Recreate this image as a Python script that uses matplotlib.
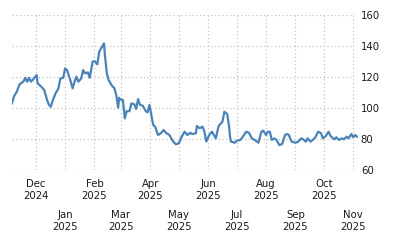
import matplotlib
matplotlib.use("Agg")
import matplotlib.pyplot as plt
import matplotlib.dates as mdates
import pandas as pd

DATES = [
    "2024-11-06", "2024-11-08", "2024-11-11", "2024-11-14", "2024-11-18", "2024-11-20",
    "2024-11-22", "2024-11-24", "2024-11-26", "2024-11-29", "2024-12-02", "2024-12-03",
    "2024-12-07", "2024-12-10", "2024-12-13", "2024-12-15", "2024-12-17", "2024-12-19",
    "2024-12-22", "2024-12-25", "2024-12-27", "2024-12-30", "2025-01-01", "2025-01-03",
    "2025-01-06", "2025-01-09", "2025-01-11", "2025-01-13", "2025-01-15", "2025-01-18",
    "2025-01-20", "2025-01-22", "2025-01-25", "2025-01-27", "2025-01-30", "2025-02-01",
    "2025-02-04", "2025-02-06", "2025-02-09", "2025-02-11", "2025-02-12", "2025-02-14",
    "2025-02-16", "2025-02-19", "2025-02-22", "2025-02-24", "2025-02-26", "2025-02-27",
    "2025-03-01", "2025-03-03", "2025-03-05", "2025-03-07", "2025-03-10", "2025-03-12",
    "2025-03-15", "2025-03-17", "2025-03-19", "2025-03-21", "2025-03-24", "2025-03-27",
    "2025-03-29", "2025-03-31", "2025-04-02", "2025-04-04", "2025-04-06", "2025-04-09",
    "2025-04-12", "2025-04-15", "2025-04-18", "2025-04-21", "2025-04-25", "2025-04-28",
    "2025-05-01", "2025-05-04", "2025-05-07", "2025-05-10", "2025-05-13", "2025-05-15",
    "2025-05-19", "2025-05-20", "2025-05-23", "2025-05-26", "2025-05-28", "2025-05-30",
    "2025-06-02", "2025-06-05", "2025-06-09", "2025-06-12", "2025-06-16", "2025-06-18",
    "2025-06-21", "2025-06-23", "2025-06-24", "2025-06-25", "2025-06-29", "2025-07-01",
    "2025-07-05", "2025-07-08", "2025-07-11", "2025-07-14", "2025-07-17", "2025-07-20",
    "2025-07-24", "2025-07-27", "2025-07-29", "2025-08-01", "2025-08-03", "2025-08-05",
    "2025-08-07", "2025-08-10", "2025-08-12", "2025-08-15", "2025-08-18", "2025-08-21",
    "2025-08-23", "2025-08-25", "2025-08-28", "2025-09-01", "2025-09-04", "2025-09-07",
    "2025-09-09", "2025-09-12", "2025-09-14", "2025-09-17", "2025-09-20", "2025-09-22",
    "2025-09-25", "2025-09-28", "2025-09-30", "2025-10-03", "2025-10-06", "2025-10-08",
    "2025-10-12", "2025-10-14", "2025-10-17", "2025-10-20", "2025-10-22", "2025-10-25",
    "2025-10-27", "2025-10-30", "2025-11-01", "2025-11-03", "2025-11-05",
]
VALUES = [
    103.0, 107.3, 110.5, 115.3, 117.0, 119.5,
    117.0, 119.5, 117.0, 119.0, 121.3, 116.0,
    113.7, 111.6, 105.2, 102.0, 100.8, 105.0,
    109.5, 112.7, 119.0, 119.5, 125.6, 124.5,
    119.0, 112.7, 117.0, 120.2, 117.0, 119.0,
    124.5, 122.4, 123.0, 119.5, 129.9, 130.3,
    128.2, 136.3, 139.5, 141.7, 134.2, 122.4,
    118.0, 114.8, 112.7, 108.4, 100.2, 106.6,
    105.2, 105.2, 93.3, 98.0, 98.0, 103.0,
    102.4, 99.4, 105.8, 102.0, 101.5, 98.0,
    97.2, 102.0, 95.5, 89.0, 88.0, 82.6,
    83.7, 85.8, 83.7, 82.6, 78.3, 76.6,
    77.2, 81.5, 84.7, 82.6, 84.0, 83.2,
    83.7, 88.4, 86.9, 88.0, 84.7, 78.3,
    82.6, 84.7, 80.4, 88.4, 91.2, 97.6,
    96.1, 88.0, 81.5, 78.3, 77.6, 78.9,
    79.4, 81.9, 84.7, 84.0, 80.4, 79.4,
    77.6, 84.7, 85.4, 82.6, 84.7, 84.7,
    79.4, 80.4, 79.4, 76.1, 76.8, 82.6,
    83.2, 82.6, 78.3, 77.6, 78.3, 80.4,
    79.8, 78.3, 80.4, 78.3, 79.8, 81.1,
    84.7, 83.7, 80.4, 81.9, 84.7, 81.9,
    79.8, 81.1, 79.4, 80.4, 79.8, 81.5,
    80.4, 83.2, 81.1, 82.6, 81.5,
]
Y_TICKS = [60, 80, 100, 120, 140, 160]

LINE_COLOR = "#4A83B8"
GRID_COLOR = "#c4c4c4"
TEXT_COLOR = "#1a1a1a"


def main() -> None:
    dates = pd.to_datetime(DATES)
    fig = plt.figure(figsize=(4.0, 2.5), dpi=100)
    ax = fig.add_axes([0.03, 0.32, 0.865, 0.62])

    x0 = pd.Timestamp("2024-11-06")
    x1 = pd.Timestamp("2025-11-06")
    grid_end = pd.Timestamp("2025-11-01")
    ax.set_xlim(x0, x1)
    ax.set_ylim(60, 160)

    # horizontal grid stops at the last month line
    ax.hlines(Y_TICKS, x0, grid_end, colors=GRID_COLOR, linestyles=(0, (1, 2)),
              linewidth=0.9, zorder=1)
    months = pd.date_range("2024-12-01", "2025-11-01", freq="MS")
    ax.vlines(months, 60, 160, colors=GRID_COLOR, linestyles=(0, (1, 2)),
              linewidth=0.9, zorder=1)

    ax.plot(dates, VALUES, color=LINE_COLOR, linewidth=1.6, zorder=3,
            solid_joinstyle="round")

    ax.xaxis.set_major_locator(mdates.MonthLocator(bymonth=[12, 2, 4, 6, 8, 10]))
    ax.xaxis.set_minor_locator(mdates.MonthLocator(bymonth=[1, 3, 5, 7, 9, 11]))
    fmt = mdates.DateFormatter("%b\n%Y")
    ax.xaxis.set_major_formatter(fmt)
    ax.xaxis.set_minor_formatter(fmt)
    ax.tick_params(axis="x", which="major", length=0, pad=6.5, labelsize=7.3,
                   labelcolor=TEXT_COLOR)
    ax.tick_params(axis="x", which="minor", length=0, pad=29, labelsize=7.3,
                   labelcolor=TEXT_COLOR)

    ax.yaxis.tick_right()
    ax.set_yticks(Y_TICKS)
    ax.tick_params(axis="y", length=0, pad=2, labelsize=7.3, labelcolor=TEXT_COLOR)

    for side in ("top", "right", "bottom", "left"):
        ax.spines[side].set_visible(False)

    fig.savefig("out.png", dpi=100)
    plt.close(fig)


if __name__ == "__main__":
    main()
